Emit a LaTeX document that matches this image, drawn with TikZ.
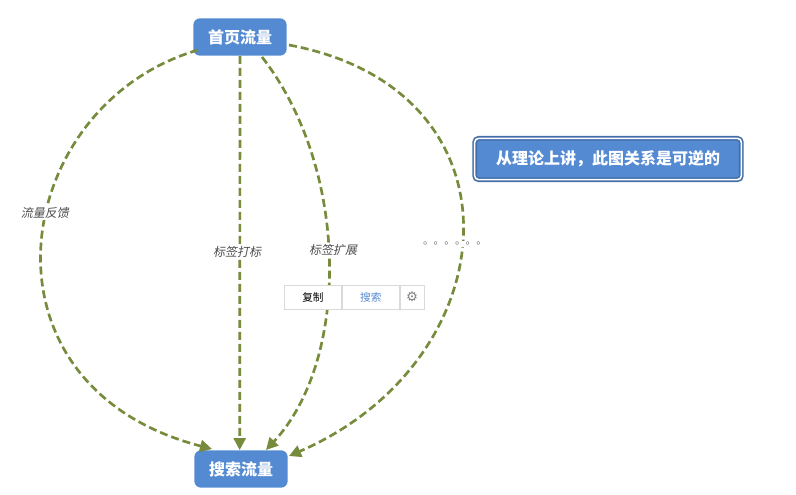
\documentclass[tikz,border=0pt]{standalone}
\usepackage{fontspec}
\setmainfont{Noto Sans CJK SC}
\newfontfamily\cjkit[FakeSlant=0.2]{Noto Sans CJK SC}
\newfontfamily\dejavu{DejaVu Sans}
\usetikzlibrary{arrows.meta}
\definecolor{nodeblue}{RGB}{84,138,210}
\definecolor{olive}{RGB}{118,140,60}
\begin{document}
\begin{tikzpicture}[x=0.75pt,y=-0.75pt,
  mnode/.style={fill=nodeblue,rounded corners=5pt,text=white,font=\bfseries\fontsize{12}{14}\selectfont,minimum width=70pt,minimum height=28pt,inner sep=0pt},
  flow/.style={draw=olive,line width=2pt,dash pattern=on 6pt off 3pt,-{Stealth[length=9pt,width=9pt,inset=0pt]}},
  lbl/.style={font=\cjkit\fontsize{9}{10}\selectfont,text=black!70,fill=white,inner sep=1pt},
  tb/.style={draw=black!15,minimum height=18pt,inner sep=0pt,font=\fontsize{8}{10}\selectfont}]
\useasboundingbox (0,0) rectangle (796,494);
\node[mnode] (top) at (240,37) {首页流量};
\node[mnode] (bot) at (241,469) {搜索流量};
\node[draw=nodeblue!80!black,double=white,double distance=1.2pt,line width=1.2pt,fill=nodeblue,rounded corners=3pt,text=white,font=\bfseries\fontsize{12}{14}\selectfont,minimum width=200pt,minimum height=31pt] (note) at (608,159) {从理论上讲，此图关系是可逆的};
\coordinate (t1) at (198,50);
\coordinate (b1) at (212,449);
\draw[flow] (t1) .. controls (10,105) and (-34,385) .. (b1);
\draw[flow] (top.south) -- ([xshift=-1pt]bot.north);
\coordinate (t3) at (262,57);
\coordinate (b3) at (266,450);
\draw[flow] (t3) .. controls (350,170) and (350,360) .. (b3);
\coordinate (t4) at (289,45);
\coordinate (b4) at (289,456);
\draw[flow] (t4) .. controls (530,90) and (510,360) .. (b4);
\node[lbl] (l1) at (45,213) {流量反馈};
\node[lbl] (l2) at (237,252) {标签打标};
\node[lbl] (l3) at (333,250) {标签扩展};
\node[font=\fontsize{8}{10}\selectfont,text=black!60,fill=white,inner sep=1pt] (l4) at (455,244) {。。。。。。};
\node[tb,fill=white,minimum width=43pt,anchor=west] (copy) at (284,297) {复制};
\node[tb,fill=white,minimum width=43pt,anchor=west,text=nodeblue] (search) at (copy.east) {搜索};
\node[tb,fill=white,minimum width=18pt,anchor=west,text=black!50,font=\dejavu\fontsize{10}{10}\selectfont] (gear) at (search.east) {⚙};
\end{tikzpicture}
\end{document}
